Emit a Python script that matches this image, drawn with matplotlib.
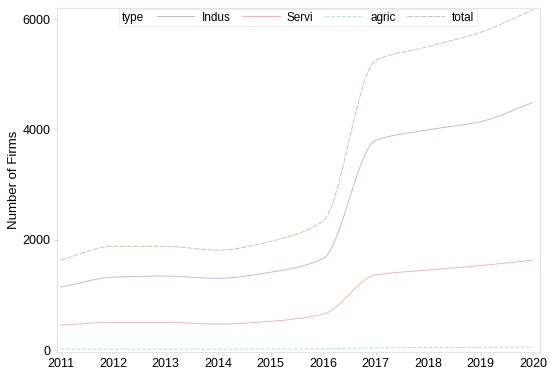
import numpy as np
import matplotlib
matplotlib.use("Agg")
import matplotlib.pyplot as plt
from matplotlib.path import Path
from matplotlib.patches import PathPatch
from matplotlib.lines import Line2D
from matplotlib.offsetbox import HPacker

plt.rcParams['font.family'] = ['Liberation Sans', 'DejaVu Sans']

years = [2011, 2012, 2013, 2014, 2015, 2016, 2017, 2018, 2019, 2020]
indus = [1140, 1320, 1340, 1300, 1410, 1660, 3800, 3990, 4140, 4490]
servi = [450, 500, 500, 470, 520, 650, 1360, 1450, 1530, 1630]
agric = [15, 15, 15, 15, 18, 22, 40, 45, 48, 50]
total = [1630, 1880, 1880, 1810, 1970, 2340, 5250, 5500, 5760, 6170]

series = [
    ("Indus", indus, "#b8b8da", "-"),
    ("Servi", servi, "#e6b6b6", "-"),
    ("agric", agric, "#b0dad2", (0, (4, 2))),
    ("total", total, "#cbbdb6", (0, (6, 1.5))),
]


def pchip_slopes(x, y):
    x = np.asarray(x, float); y = np.asarray(y, float)
    h = np.diff(x); d = np.diff(y) / h
    m = np.zeros_like(y)
    for i in range(1, len(y) - 1):
        if d[i - 1] * d[i] <= 0:
            m[i] = 0
        else:
            w1 = 2 * h[i] + h[i - 1]; w2 = h[i] + 2 * h[i - 1]
            m[i] = (w1 + w2) / (w1 / d[i - 1] + w2 / d[i])
    m[0] = d[0]; m[-1] = d[-1]
    return m


def smooth_path(x, y):
    m = pchip_slopes(x, y)
    verts = [(x[0], y[0])]; codes = [Path.MOVETO]
    for i in range(len(x) - 1):
        h = x[i + 1] - x[i]
        verts += [(x[i] + h / 3, y[i] + m[i] * h / 3),
                  (x[i + 1] - h / 3, y[i + 1] - m[i + 1] * h / 3),
                  (x[i + 1], y[i + 1])]
        codes += [Path.CURVE4] * 3
    return Path(verts, codes)


fig = plt.figure(figsize=(5.5, 3.77), dpi=100)
ax = fig.add_axes([0.1036, 0.0663, 0.8782, 0.9125])

handles = []
for name, vals, col, ls in series:
    patch = PathPatch(smooth_path(years, vals), fill=False, edgecolor=col,
                      lw=0.65, linestyle=ls)
    ax.add_patch(patch)
    handles.append(Line2D([], [], color=col, lw=0.65, linestyle=ls, label=name))

ax.set_xlim(2010.93, 2020.13)
ax.set_ylim(-36, 6200)
ax.set_xticks(years)
ax.set_yticks([0, 2000, 4000, 6000])
ax.tick_params(labelsize=9, length=2.5, width=0.6, color="#c8c8c8", pad=2)
for s in ax.spines.values():
    s.set_color("#e4e4e4")
    s.set_linewidth(0.8)
ax.set_ylabel("Number of Firms", fontsize=9.5, labelpad=2)

leg = ax.legend(handles=handles, ncol=4, title="type", loc="upper center",
                bbox_to_anchor=(0.499, 1.0), fontsize=8.5, title_fontsize=8.5,
                handlelength=3.2, handletextpad=0.6, columnspacing=1.0,
                borderpad=0.2, borderaxespad=0.1, frameon=True, fancybox=False)
fs = leg._fontsize
leg._legend_box = HPacker(pad=leg.borderpad * fs, sep=1.1 * fs, align="center",
                          children=[leg._legend_title_box, leg._legend_handle_box])
leg._legend_box.set_figure(fig)
leg._legend_box.axes = ax
leg._legend_box.set_offset(leg._findoffset)
leg.get_frame().set_edgecolor("#e8e8e8")
leg.get_frame().set_linewidth(0.8)

fig.savefig("out.png", dpi=100)
